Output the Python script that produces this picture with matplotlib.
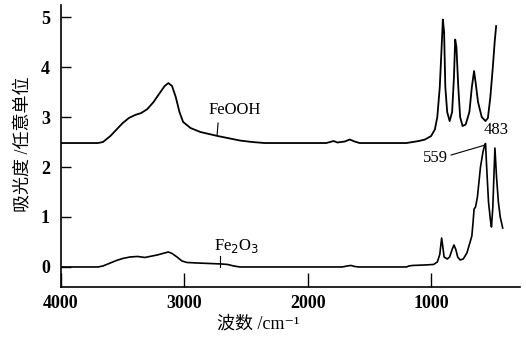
import matplotlib
matplotlib.use("Agg")
import matplotlib.pyplot as plt

# FeOOH spectrum (wavenumber cm-1, absorbance, arbitrary units)
feooh_wn = [4000, 3700, 3660, 3600, 3550, 3500, 3450, 3400, 3350, 3300, 3250, 3200,
            3160, 3130, 3100, 3070, 3040, 3010, 2950, 2870, 2800, 2730, 2650, 2550,
            2450, 2350, 1850, 1820, 1790, 1760, 1700, 1660, 1620, 1580, 1200, 1150,
            1100, 1050, 1000, 970, 950, 930, 915, 905, 895, 885, 870, 850, 830, 815,
            805, 795, 780, 765, 745, 720, 690, 670, 652, 640, 620, 590, 560, 540,
            520, 500, 485, 473]
feooh_abs = [2.48, 2.48, 2.50, 2.62, 2.75, 2.88, 2.98, 3.04, 3.08, 3.16, 3.30, 3.48,
             3.62, 3.68, 3.62, 3.40, 3.10, 2.90, 2.78, 2.70, 2.66, 2.62, 2.58, 2.53,
             2.50, 2.48, 2.48, 2.50, 2.52, 2.49, 2.51, 2.55, 2.51, 2.48, 2.48, 2.50,
             2.52, 2.55, 2.62, 2.75, 3.00, 3.60, 4.40, 4.95, 4.70, 3.60, 3.10, 2.92,
             3.10, 3.80, 4.55, 4.40, 3.60, 3.00, 2.82, 2.85, 3.10, 3.60, 3.92, 3.70,
             3.30, 3.00, 2.92, 2.98, 3.40, 4.00, 4.50, 4.82]

# Fe2O3 spectrum
fe2o3_wn = [4000, 3700, 3660, 3600, 3550, 3500, 3440, 3380, 3320, 3280, 3220, 3160,
            3130, 3100, 3060, 3020, 2980, 2900, 2800, 2700, 2650, 2600, 2550, 1720,
            1680, 1650, 1620, 1590, 1200, 1180, 1150, 1050, 980, 950, 930, 915, 905,
            895, 870, 850, 830, 815, 800, 785, 765, 740, 710, 690, 670, 660, 652,
            640, 625, 600, 580, 565, 559, 550, 535, 520, 511, 500, 490, 483, 470,
            455, 440, 420]
fe2o3_abs = [0.00, 0.00, 0.02, 0.08, 0.13, 0.17, 0.20, 0.21, 0.19, 0.21, 0.24, 0.28,
             0.30, 0.27, 0.20, 0.12, 0.09, 0.08, 0.07, 0.06, 0.05, 0.02, 0.00, 0.00,
             0.02, 0.03, 0.01, 0.00, 0.00, 0.02, 0.03, 0.04, 0.05, 0.10, 0.25, 0.58,
             0.40, 0.20, 0.16, 0.20, 0.35, 0.44, 0.35, 0.20, 0.14, 0.16, 0.28, 0.45,
             0.62, 0.90, 1.16, 1.20, 1.40, 2.00, 2.30, 2.45, 2.47, 2.00, 1.30, 0.95,
             0.80, 1.20, 1.90, 2.38, 1.80, 1.30, 1.00, 0.78]

plt.rcParams['font.family'] = ['Liberation Serif', 'Noto Sans CJK SC', 'DejaVu Serif']

fig = plt.figure(figsize=(5.26, 3.38), dpi=100)
ax = fig.add_axes([0.116, 0.151, 0.873, 0.834])

ax.plot(feooh_wn, feooh_abs, color='black', lw=1.3)
ax.plot(fe2o3_wn, fe2o3_abs, color='black', lw=1.2)

ax.set_xlim(4000, 278)
ax.set_ylim(-0.4, 5.24)
ax.set_xticks([4000, 3000, 2000, 1000])
ax.set_yticks([0, 1, 2, 3, 4, 5])
ax.spines['top'].set_visible(False)
ax.spines['right'].set_visible(False)
for s in ['left', 'bottom']:
    ax.spines[s].set_linewidth(1.2)
ax.tick_params(axis='x', direction='in', length=10, width=1, labelsize=13, pad=6)
ax.tick_params(axis='y', direction='in', length=7, width=1, labelsize=13, pad=8)
for lbl in ax.get_xticklabels() + ax.get_yticklabels():
    lbl.set_fontweight('bold')

ax.set_xlabel('波数 /cm⁻¹', fontsize=13)
ax.xaxis.set_label_coords(0.43, -0.10)
ax.set_ylabel('吸光度 /任意单位', fontsize=13)
ax.yaxis.set_label_coords(-0.063, 0.507)

# curve labels with small leader lines
ax.text(2590, 3.14, 'FeOOH', fontsize=12, ha='center', va='center')
ax.plot([2727, 2735], [2.88, 2.64], color='black', lw=0.8)
ax.text(2580, 0.42, 'Fe$_2$O$_3$', fontsize=12, ha='center', va='center')
ax.plot([2710, 2710], [0.22, 0.0], color='black', lw=0.8)

ax.text(472, 2.74, '483', fontsize=12, ha='center', va='center')
ax.text(968, 2.18, '559', fontsize=12, ha='center', va='center')
ax.plot([838, 562], [2.24, 2.44], color='black', lw=0.8)

fig.savefig('out.png', dpi=100)
